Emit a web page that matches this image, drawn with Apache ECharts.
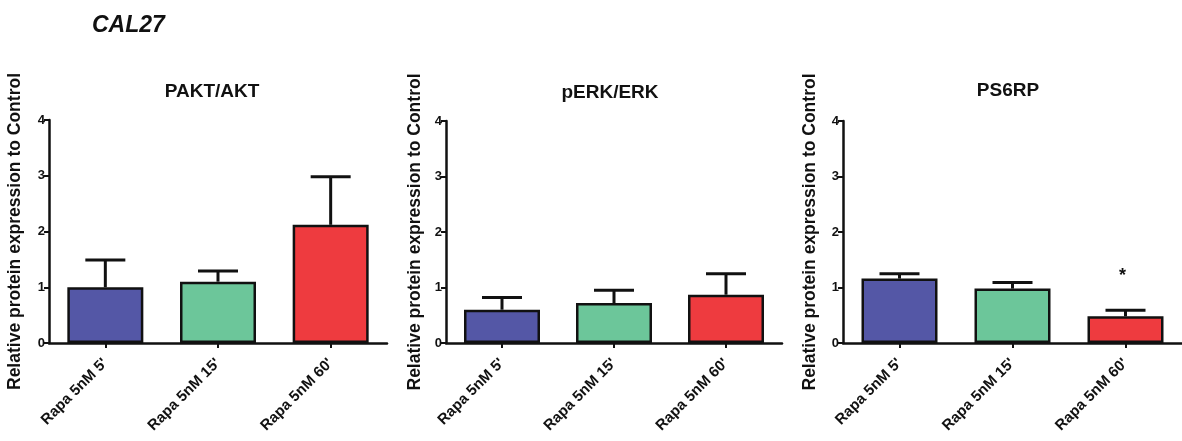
<!DOCTYPE html>
<html>
<head>
<meta charset="utf-8">
<script src="https://cdn.jsdelivr.net/npm/echarts@6/dist/echarts.min.js"></script>
<style>
  html, body { margin: 0; padding: 0; background: #ffffff; }
  #chart { width: 1182px; height: 441px; }
</style>
</head>
<body>
<div id="chart"></div>
<script>
// Treatment groups (x categories)
const categories = ["Rapa 5nM 5'", "Rapa 5nM 15'", "Rapa 5nM 60'"];

// Panel titles
const panelTitles = ['PAKT/AKT', 'pERK/ERK', 'PS6RP'];

// Mean relative expression per panel
const paktMeans = [1.0, 1.1, 2.12];
const perkMeans = [0.6, 0.72, 0.87];
const ps6rpMeans = [1.16, 0.98, 0.48];

// Upper error (SEM) per panel
const paktErr = [0.49, 0.19, 0.86];
const perkErr = [0.22, 0.23, 0.38];
const ps6rpErr = [0.09, 0.11, 0.11];

// Significance marker: [category index, y value, text]
const ps6rpStar = [[2, 1.27, '*']];

// Y axis ticks
const yTicks = [0, 1, 2, 3, 4];

const barColors = ['#5457a6', '#6cc69a', '#ee3b3f'];

const means = [paktMeans, perkMeans, ps6rpMeans];
const errs = [paktErr, perkErr, ps6rpErr];

const grids = [
  { left: 49, top: 120, width: 338, bottom: 98 },
  { left: 446, top: 121, width: 336, bottom: 98 },
  { left: 843, top: 121, width: 339, bottom: 98 }
];
const nameGaps = [25, 22, 24];
const titleCenters = [[207, 88], [605, 89], [1003, 87]];

const font = 'Liberation Sans, Arial, sans-serif';

const xAxes = [], yAxes = [], series = [], titles = [];

titles.push({
  text: 'CAL27', left: 87, top: 9,
  textStyle: { fontFamily: font, fontSize: 23, fontWeight: 'bold', fontStyle: 'italic', color: '#111' }
});

for (let i = 0; i < 3; i++) {
  titles.push({
    text: panelTitles[i],
    left: titleCenters[i][0], top: titleCenters[i][1] - 11,
    textAlign: 'center',
    textStyle: { fontFamily: font, fontSize: 19, fontWeight: 'bold', color: '#111' }
  });

  xAxes.push({
    type: 'category', gridIndex: i, data: categories,
    axisLine: { show: true, lineStyle: { color: '#111', width: 2.5 } },
    axisTick: { show: true, alignWithLabel: true, length: 5, lineStyle: { color: '#111', width: 2 } },
    axisLabel: {
      rotate: 45, margin: 18, interval: 0,
      fontFamily: font, fontSize: 15, fontWeight: 'bold', color: '#111'
    },
    splitLine: { show: false }
  });

  yAxes.push({
    type: 'value', gridIndex: i, min: yTicks[0], max: yTicks[yTicks.length - 1], interval: 1,
    name: 'Relative protein expression to Control',
    nameLocation: 'middle', nameRotate: 90, nameGap: nameGaps[i],
    nameTextStyle: { fontFamily: font, fontSize: 17.5, fontWeight: 'bold', color: '#111' },
    axisLine: { show: true, lineStyle: { color: '#111', width: 2.5 } },
    axisTick: { show: true, length: 5, lineStyle: { color: '#111', width: 2 } },
    axisLabel: { margin: 4, fontFamily: font, fontSize: 13, fontWeight: 'bold', color: '#111' },
    splitLine: { show: false }
  });

  series.push({
    type: 'bar', xAxisIndex: i, yAxisIndex: i, barWidth: 76, z: 3,
    data: means[i].map((v, k) => ({
      value: v,
      itemStyle: { color: barColors[k], borderColor: '#111', borderWidth: 2.5 }
    }))
  });

  // Upper error bars with caps
  series.push({
    type: 'custom', xAxisIndex: i, yAxisIndex: i, z: 2,
    data: means[i].map((v, k) => [k, v, errs[i][k]]),
    renderItem: function (params, api) {
      const x = api.value(0), y = api.value(1), e = api.value(2);
      const p0 = api.coord([x, y]);
      const p1 = api.coord([x, y + e]);
      const style = { stroke: '#111', lineWidth: 3 };
      return {
        type: 'group',
        children: [
          { type: 'line', shape: { x1: p0[0], y1: p0[1], x2: p1[0], y2: p1[1] }, style: style },
          { type: 'line', shape: { x1: p1[0] - 20, y1: p1[1], x2: p1[0] + 20, y2: p1[1] }, style: style }
        ]
      };
    }
  });
}

// Significance asterisk in the PS6RP panel
series.push({
  type: 'custom', xAxisIndex: 2, yAxisIndex: 2, z: 4,
  data: ps6rpStar.map(d => [d[0], d[1], d[2]]),
  renderItem: function (params, api) {
    const p = api.coord([api.value(0), api.value(1)]);
    return {
      type: 'text',
      x: p[0] - 3, y: p[1] + 4,
      style: {
        text: ps6rpStar[params.dataIndex][2],
        fontFamily: font, fontSize: 18, fontWeight: 'bold', fill: '#111',
        align: 'center', verticalAlign: 'middle'
      }
    };
  }
});

const chart = echarts.init(document.getElementById('chart'), null, { renderer: 'canvas' });
chart.setOption({
  backgroundColor: '#ffffff',
  animation: false,
  title: titles,
  grid: grids,
  xAxis: xAxes,
  yAxis: yAxes,
  series: series
});
</script>
</body>
</html>
